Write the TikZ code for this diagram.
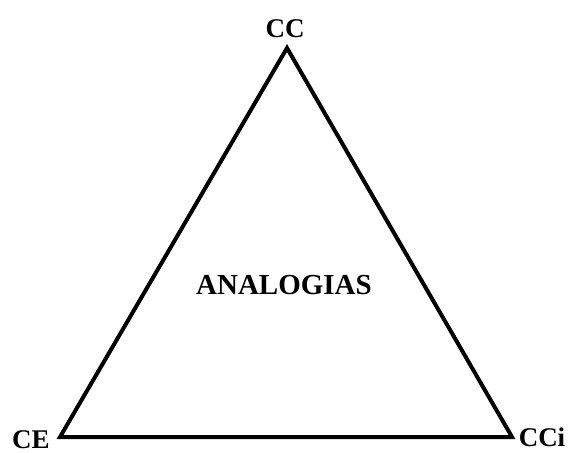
\documentclass[tikz,border=0pt]{standalone}
\usepackage{fontspec}
\setmainfont{Liberation Serif}
\usetikzlibrary{positioning}

\begin{document}
\begin{tikzpicture}[
    x=1pt, y=-1pt,
    side/.style={line width=4pt, line join=miter},
    vlabel/.style={inner sep=0pt, font=\fontsize{27}{29}\selectfont\bfseries}
]
\useasboundingbox (0,0) rectangle (569,452);

% corners of the triangle
\coordinate (top) at (287,48);
\coordinate (left) at (60,437);
\coordinate (right) at (512,437);

\draw[side] (top) -- (left) -- (right) -- cycle;

% labels
\node[vlabel] (cc) at (285,29) {CC};
\node[vlabel] (ce) at (31,440) {CE};
\node[vlabel] (cci) at (542,437) {CCi};
\node[vlabel, font=\fontsize{29}{31}\selectfont\bfseries] (analogias) at (284,285) {ANALOGIAS};
\end{tikzpicture}
\end{document}
